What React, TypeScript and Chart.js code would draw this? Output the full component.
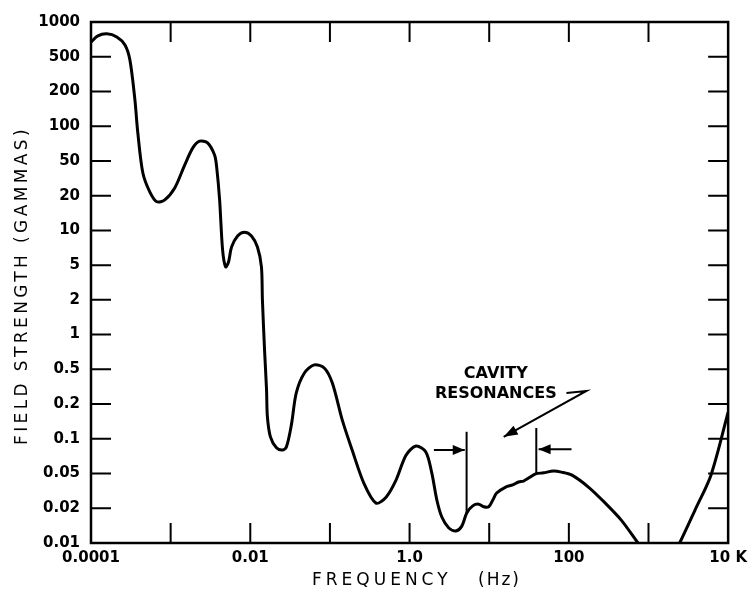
import React, { useEffect, useRef } from 'react';
import { Chart, registerables } from 'chart.js';

Chart.register(...registerables);

// ---- data (frequency in Hz, field strength in gammas) ----
const frequencyHz = [
  0.0001, 0.000122, 0.000158, 0.000211, 0.000267, 0.000308, 0.000356, 0.000387, 0.000448, 0.000547,
  0.00067, 0.000843, 0.001125, 0.0015, 0.00189, 0.00231, 0.00291, 0.00356, 0.00378, 0.00412,
  0.00449, 0.0049, 0.00533, 0.00582, 0.00692, 0.00845, 0.01035, 0.0123, 0.0138, 0.0142,
  0.0151, 0.016, 0.0164, 0.0179, 0.0213, 0.0253, 0.0284, 0.0328, 0.0378, 0.0476,
  0.0635, 0.0849, 0.107, 0.143, 0.19, 0.269, 0.379, 0.507, 0.676, 0.902,
  1.2, 1.6, 1.9, 2.2, 2.54, 3.11, 3.81, 4.53, 5.22, 6.21,
  7.4, 8.53, 9.86, 11.1, 12.4, 16.1, 19.7, 23.4, 27, 31.2,
  38.2, 48.1, 64.1, 80.7, 108, 176, 287, 455, 723, 910,
  1400, 2100, 2495, 3840, 6100, 10000,
];
const fieldGammas: (number | null)[] = [
  670, 758, 790, 742, 633, 460, 169, 87.7, 36.3, 22.1,
  17.7, 18.4, 24.5, 44.8, 64.6, 74.2, 71.7, 56.3, 42.8, 18.4,
  6.78, 4.78, 5.32, 7.17, 8.95, 9.66, 8.95, 7.17, 4.78, 2.0,
  0.737, 0.291, 0.155, 0.104, 0.0835, 0.08, 0.085, 0.132, 0.268, 0.451,
  0.547, 0.514, 0.35, 0.145, 0.08, 0.038, 0.0229, 0.0268, 0.042, 0.072,
  0.0865, 0.077, 0.0507, 0.0249, 0.0168, 0.0135, 0.0127, 0.014, 0.0182, 0.0213,
  0.0223, 0.0208, 0.0208, 0.0249, 0.0299, 0.035, 0.037, 0.04, 0.041, 0.0444,
  0.0495, 0.0507, 0.0525, 0.0514, 0.0482, 0.035, 0.0229, 0.0158, 0.0102, 0.0082,
  null, 0.0082, 0.0102, 0.0193, 0.0482, 0.17,
];

const yTickLabels = ['0.01', '0.02', '0.05', '0.1', '0.2', '0.5', '1', '2', '5', '10', '20', '50', '100', '200', '500', '1000'];
const xTickValues = [0.0001, 0.001, 0.01, 0.1, 1, 10, 100, 1000, 10000];
const xTickLabels = ['0.0001', '', '0.01', '', '1.0', '', '100', '', '10 K'];

const xTitle = 'FREQUENCY';
const xTitleUnit = '(Hz)';
const yTitle = 'FIELD STRENGTH (GAMMAS)';

// annotation (data coordinates)
const resonanceX = [5.2, 39];
const resonanceTop = [0.115, 0.124];
const resonanceBottom = [0.0182, 0.0495];
const arrowFromX = [2.02, 108];
const arrowToX = [4.93, 41.7];
const arrowY = [0.08, 0.081];
const noteLines = ['CAVITY', 'RESONANCES'];
const noteX = 12.1;
const noteY = [0.444, 0.261];
const pointerX = [93.3, 166, 15.2];
const pointerY = [0.268, 0.283, 0.104];

// 1-2-5 evenly spaced vertical axis
function toIdx(v: number): number {
  const d = Math.floor(Math.log10(v) + 1e-9);
  const m = v / Math.pow(10, d);
  let r: number;
  if (m < 2) r = Math.log(m) / Math.log(2);
  else if (m < 5) r = 1 + Math.log(m / 2) / Math.log(2.5);
  else r = 2 + Math.log(m / 5) / Math.log(2);
  return (d + 2) * 3 + r;
}

function arrowHead(ctx: CanvasRenderingContext2D, fx: number, fy: number, tx: number, ty: number, len: number, wid: number) {
  const a = Math.atan2(ty - fy, tx - fx);
  ctx.beginPath();
  ctx.moveTo(tx, ty);
  ctx.lineTo(tx - len * Math.cos(a) + wid * Math.sin(a), ty - len * Math.sin(a) - wid * Math.cos(a));
  ctx.lineTo(tx - len * Math.cos(a) - wid * Math.sin(a), ty - len * Math.sin(a) + wid * Math.cos(a));
  ctx.closePath();
  ctx.fill();
}

const decorPlugin = {
  id: 'decor',
  afterDraw(chart: any) {
    const { ctx, chartArea, scales } = chart;
    const { left, top, right, bottom } = chartArea;
    const xs = scales.x;
    const ys = scales.y;
    const X = (v: number) => xs.getPixelForValue(v);
    const Y = (v: number) => ys.getPixelForValue(toIdx(v));
    ctx.save();
    ctx.strokeStyle = '#000';
    ctx.fillStyle = '#000';
    ctx.lineCap = 'butt';

    // frame
    ctx.lineWidth = 2.5;
    ctx.strokeRect(left, top, right - left, bottom - top);

    // inward ticks
    ctx.lineWidth = 2;
    const tl = 20;
    xTickValues.forEach((v, i) => {
      if (i === 0 || i === xTickValues.length - 1) return;
      const px = X(v);
      ctx.beginPath();
      ctx.moveTo(px, bottom);
      ctx.lineTo(px, bottom - tl);
      ctx.moveTo(px, top);
      ctx.lineTo(px, top + tl);
      ctx.stroke();
    });
    yTickLabels.forEach((_, i) => {
      if (i === 0 || i === yTickLabels.length - 1) return;
      const py = ys.getPixelForValue(i);
      ctx.beginPath();
      ctx.moveTo(left, py);
      ctx.lineTo(left + tl, py);
      ctx.moveTo(right, py);
      ctx.lineTo(right - tl, py);
      ctx.stroke();
    });

    // resonance markers
    ctx.lineWidth = 2;
    resonanceX.forEach((f, i) => {
      const px = X(f);
      ctx.beginPath();
      ctx.moveTo(px, Y(resonanceTop[i]));
      ctx.lineTo(px, Y(resonanceBottom[i]));
      ctx.stroke();
      const ax0 = X(arrowFromX[i]);
      const ax1 = X(arrowToX[i]);
      const ay = Y(arrowY[i]);
      ctx.beginPath();
      ctx.moveTo(ax0, ay);
      ctx.lineTo(ax1, ay);
      ctx.stroke();
      arrowHead(ctx, ax0, ay, ax1, ay, 12, 5);
    });

    // pointer
    ctx.beginPath();
    pointerX.forEach((f, i) => {
      const px = X(f);
      const py = Y(pointerY[i]);
      if (i === 0) ctx.moveTo(px, py);
      else ctx.lineTo(px, py);
    });
    ctx.stroke();
    const n = pointerX.length;
    arrowHead(ctx, X(pointerX[n - 2]), Y(pointerY[n - 2]), X(pointerX[n - 1]), Y(pointerY[n - 1]), 14, 5);

    // note text
    ctx.font = 'bold 16px "DejaVu Sans"';
    ctx.textAlign = 'center';
    ctx.textBaseline = 'middle';
    noteLines.forEach((t, i) => {
      ctx.fillText(t, X(noteX), Y(noteY[i]));
    });

    // axis titles
    ctx.font = '17px "DejaVu Sans"';
    (ctx as any).letterSpacing = '4px';
    ctx.textAlign = 'left';
    ctx.textBaseline = 'middle';
    ctx.fillText(xTitle, 312, 581);
    (ctx as any).letterSpacing = '2px';
    ctx.fillText(xTitleUnit, 478, 581);

    (ctx as any).letterSpacing = '3.4px';
    ctx.translate(23, (top + bottom) / 2 + 3);
    ctx.rotate(-Math.PI / 2);
    ctx.textAlign = 'center';
    ctx.fillText(yTitle, 0, 0);
    ctx.restore();
  },
};

export default function App() {
  const ref = useRef<HTMLCanvasElement | null>(null);

  useEffect(() => {
    if (!ref.current) return;
    const points = frequencyHz.map((f, i) => ({
      x: f,
      y: fieldGammas[i] == null ? null : toIdx(fieldGammas[i] as number),
    }));
    const chart = new Chart(ref.current, {
      type: 'line',
      data: {
        datasets: [
          {
            data: points as any,
            borderColor: '#000',
            borderWidth: 3,
            pointRadius: 0,
            tension: 0.3,
            spanGaps: false,
            fill: false,
          },
        ],
      },
      options: {
        responsive: false,
        animation: false,
        devicePixelRatio: 1,
        layout: { padding: { top: 22, right: 23, left: 0, bottom: 0 } },
        plugins: { legend: { display: false }, tooltip: { enabled: false } },
        scales: {
          x: {
            type: 'logarithmic',
            min: 0.0001,
            max: 10000,
            grid: { display: false, drawTicks: false },
            border: { display: false },
            afterBuildTicks: (scale: any) => {
              scale.ticks = xTickValues.map((v) => ({ value: v }));
            },
            afterFit: (scale: any) => {
              scale.height = 55;
            },
            ticks: {
              autoSkip: false,
              maxRotation: 0,
              padding: 6,
              color: '#000',
              font: { family: 'DejaVu Sans', weight: 'bold', size: 15 },
              callback: (_v: any, i: number) => xTickLabels[i],
            },
          },
          y: {
            type: 'linear',
            min: 0,
            max: 15,
            grid: { display: false, drawTicks: false },
            border: { display: false },
            afterBuildTicks: (scale: any) => {
              scale.ticks = yTickLabels.map((_, i) => ({ value: i }));
            },
            afterFit: (scale: any) => {
              scale.width = 91;
            },
            ticks: {
              autoSkip: false,
              padding: 11,
              color: '#000',
              font: { family: 'DejaVu Sans', weight: 'bold', size: 15 },
              callback: (v: any) => yTickLabels[Math.round(v)],
            },
          },
        },
      },
      plugins: [decorPlugin],
    } as any);
    return () => chart.destroy();
  }, []);

  return (
    <div style={{ position: 'fixed', left: 0, top: 0, width: 753, height: 598, background: '#fff' }}>
      <canvas ref={ref} width={753} height={598} style={{ width: 753, height: 598, display: 'block' }} />
    </div>
  );
}
